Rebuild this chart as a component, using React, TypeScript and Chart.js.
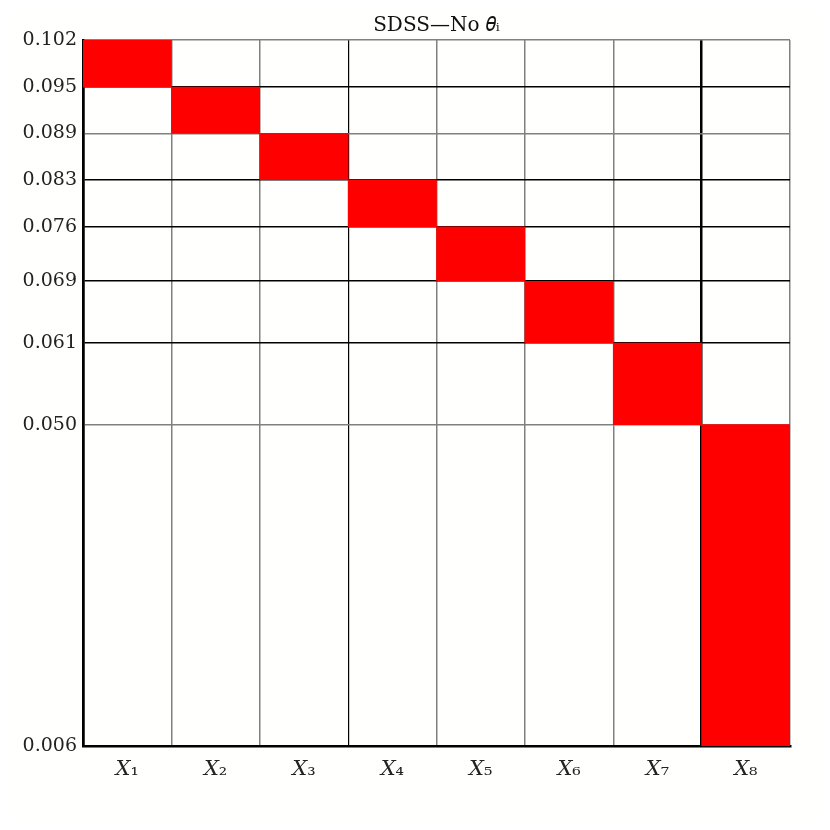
import React, { useEffect, useRef } from "react";
import { Chart, registerables } from "chart.js";

Chart.register(...registerables);

// Categories (columns)
const categories = ["𝑋₁", "𝑋₂", "𝑋₃", "𝑋₄", "𝑋₅", "𝑋₆", "𝑋₇", "𝑋₈"];

// Interval boundaries (top to bottom)
const boundaries = [0.102, 0.0956, 0.0893, 0.083, 0.0766, 0.0692, 0.0608, 0.0497, 0.006];
const boundaryLabels = ["0.102", "0.095", "0.089", "0.083", "0.076", "0.069", "0.061", "0.050", "0.006"];

// Styling flags (kept separate from data)
const darkRowLines = [false, true, false, true, true, true, true, false, true];
const darkColLines = [true, false, false, true, false, false, false, true];
const thickColLines = [true, false, false, false, false, false, false, true];

const titleText = "SDSS—No 𝜃ᵢ";

export default function App() {
  const ref = useRef<HTMLCanvasElement | null>(null);

  useEffect(() => {
    if (!ref.current) return;
    const barData = categories.map((_, i) => [boundaries[i + 1], boundaries[i]]);
    const ascending = [...boundaries].sort((a, b) => a - b);
    const rowIndexFor = (v: number) => {
      let best = 0;
      let bd = Infinity;
      boundaries.forEach((b, i) => {
        const d = Math.abs(b - v);
        if (d < bd) { bd = d; best = i; }
      });
      return best;
    };

    const chart = new Chart(ref.current, {
      type: "bar",
      data: {
        labels: categories,
        datasets: [
          {
            data: barData as any,
            backgroundColor: "#ff0000",
            borderWidth: 0,
            barPercentage: 1,
            categoryPercentage: 1,
          },
        ],
      },
      options: {
        animation: false,
        responsive: false,
        maintainAspectRatio: false,
        devicePixelRatio: 1,
        layout: { padding: { left: 0, right: 32, top: 0, bottom: 0 } },
        plugins: {
          legend: { display: false },
          tooltip: { enabled: false },
          title: {
            display: true,
            fullSize: false,
            text: titleText,
            color: "#111",
            font: { family: "DejaVu Serif", size: 20, weight: "normal", lineHeight: 1.2 },
            padding: { top: 6, bottom: 2 },
          },
        },
        scales: {
          x: {
            z: 1,
            offset: true,
            grid: {
              offset: true,
              drawTicks: false,
              color: (ctx: any) => {
                const i = ctx.index;
                if (i === undefined || i >= darkColLines.length) return "#808080";
                return darkColLines[i] ? "#000000" : "#808080";
              },
              lineWidth: (ctx: any) => {
                const i = ctx.index;
                if (i === undefined || i >= darkColLines.length) return 1.5;
                if (thickColLines[i]) return 2.5;
                return darkColLines[i] ? 1.2 : 1.5;
              },
            },
            border: { display: true, color: "#000", width: 2.5 },
            ticks: {
              color: "#222",
              padding: 11,
              font: { family: "DejaVu Serif", size: 21 },
              maxRotation: 0,
              autoSkip: false,
            },
            afterFit: (scale: any) => {
              scale.height = 76;
            },
          },
          y: {
            z: 1,
            type: "linear",
            min: 0.006,
            max: 0.102,
            afterBuildTicks: (scale: any) => {
              scale.ticks = ascending.map((v) => ({ value: v }));
            },
            grid: {
              drawTicks: false,
              color: (ctx: any) => {
                if (!ctx.tick) return "#808080";
                return darkRowLines[rowIndexFor(ctx.tick.value)] ? "#000000" : "#808080";
              },
              lineWidth: 1.5,
            },
            border: { display: true, color: "#000", width: 2.5 },
            ticks: {
              color: "#222",
              padding: 6,
              autoSkip: false,
              font: { family: "DejaVu Serif", size: 19 },
              callback: (value: any) => boundaryLabels[rowIndexFor(Number(value))],
            },
            afterFit: (scale: any) => {
              scale.width = 75;
            },
          },
        },
      },
    });
    return () => chart.destroy();
  }, []);

  return (
    <div style={{ width: 814, height: 814, background: "#ffffff" }}>
      <canvas ref={ref} width={814} height={814} style={{ display: "block", background: "#fffffd" }} />
    </div>
  );
}
